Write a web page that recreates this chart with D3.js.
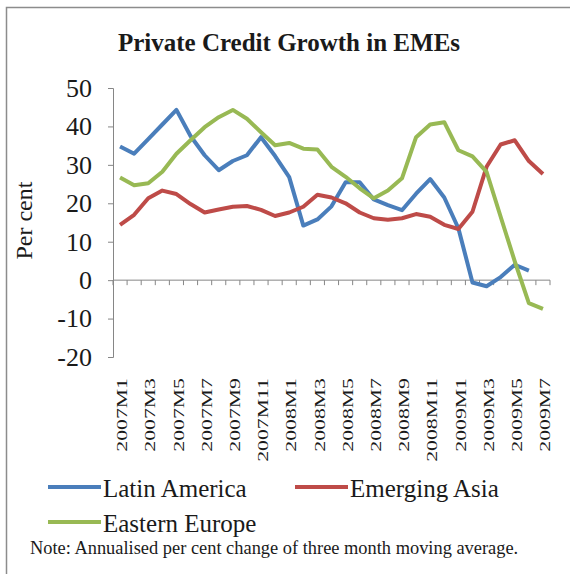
<!DOCTYPE html>
<html>
<head>
<meta charset="utf-8">
<script src="https://cdn.jsdelivr.net/npm/d3@7"></script>
<style>
    body { margin: 0; background: #fff; }
    text { font-family: "Liberation Serif", "Times New Roman", serif; fill: #1a1a1a; }
</style>
</head>
<body>
<div id="chart"></div>
<script>
// months on the x axis, every other one gets a label
var months = ["2007M1", "2007M2", "2007M3", "2007M4", "2007M5", "2007M6", "2007M7", "2007M8",
    "2007M9", "2007M10", "2007M11", "2007M12", "2008M1", "2008M2", "2008M3", "2008M4",
    "2008M5", "2008M6", "2008M7", "2008M8", "2008M9", "2008M10", "2008M11", "2008M12",
    "2009M1", "2009M2", "2009M3", "2009M4", "2009M5", "2009M6", "2009M7"];

// per cent (latin america stops at 2009M6)
var latinAmerica = [34.8, 32.9, 36.7, 40.5, 44.3, 37.5, 32.5, 28.6, 31, 32.5, 37.2, 32.3, 26.8,
    14.2, 15.8, 19.2, 25.5, 25.5, 21, 19.5, 18.2, 22.5, 26.3, 21.5, 13.5, -0.6, -1.6, 0.8, 4, 2.5, null];
var emergingAsia = [14.4, 17, 21.3, 23.3, 22.4, 19.8, 17.6, 18.4, 19.1, 19.3, 18.3, 16.7, 17.6,
    19.1, 22.2, 21.5, 20, 17.6, 16.1, 15.7, 16.1, 17.2, 16.5, 14.4, 13.3, 17.8, 29.5, 35.3, 36.4, 31, 27.6];
var easternEurope = [26.7, 24.7, 25.2, 28.2, 32.9, 36.4, 39.8, 42.4, 44.3, 42, 38.5, 35.1, 35.7,
    34.2, 34, 29.5, 26.9, 23.9, 21.3, 23.3, 26.5, 37.2, 40.5, 41.1, 33.8, 32.2, 28.2, 16.5, 4.9, -6, -7.5];

var yTicks = [-20, -10, 0, 10, 20, 30, 40, 50];
var seriesNames = ["Latin America", "Emerging Asia", "Eastern Europe"];
var seriesColors = ["#4a7ebb", "#be4b48", "#98b954"];

window.onload = function(){
    var width = 570, height = 574;

    var svg = d3.select("#chart")
                .append("svg")
                .attr("width", width)
                .attr("height", height);

    // grey frame round the chart (cut off at right and bottom)
    svg.append("rect")
        .attr("x", 6.5).attr("y", 7.5)
        .attr("width", 600).attr("height", 600)
        .style("fill", "none")
        .style("stroke", "#8c8c8c")
        .style("stroke-width", 1.5);

    svg.append("text")
        .attr("x", 289).attr("y", 51)
        .attr("text-anchor", "middle")
        .style("font-size", "25px")
        .style("font-weight", "bold")
        .text("Private Credit Growth in EMEs");

    var x = d3.scaleBand()
              .domain(months)
              .range([113, 550]);
    var y = d3.scaleLinear()
              .domain([-20, 50])
              .range([357, 88]);

    // y axis
    var yAxis = d3.axisLeft(y)
                  .tickValues(yTicks)
                  .tickSize(5)
                  .tickPadding(16)
                  .tickFormat(function(d){ return String(d); });
    var gy = svg.append("g")
                .attr("transform", "translate(113,0)")
                .call(yAxis);
    gy.select(".domain").style("stroke", "#868686");
    gy.selectAll(".tick line").style("stroke", "#868686");
    gy.selectAll(".tick text")
      .style("font-size", "26px")
      .style("font-family", "'Liberation Serif', serif")
      .style("fill", "#1a1a1a");

    svg.append("text")
        .attr("transform", "translate(24," + y(15.5) + ") rotate(-90)")
        .attr("text-anchor", "middle")
        .attr("dy", "0.35em")
        .style("font-size", "24px")
        .text("Per cent");

    // x axis on the zero line, ticks between the months
    svg.append("line")
        .attr("x1", 113).attr("x2", 550)
        .attr("y1", y(0)).attr("y2", y(0))
        .style("stroke", "#868686");
    var edges = months.map(function(m){ return x(m); }).concat([x.range()[1]]);
    svg.append("g")
        .selectAll("line")
        .data(edges)
        .enter()
        .append("line")
        .attr("x1", function(d){ return d; })
        .attr("x2", function(d){ return d; })
        .attr("y1", y(0))
        .attr("y2", y(0) + 5)
        .style("stroke", "#868686");

    // month labels, stretched like the original
    svg.append("g")
        .selectAll("text")
        .data(months.filter(function(m, i){ return i % 2 == 0; }))
        .enter()
        .append("text")
        .attr("transform", function(d){
            return "translate(" + (x(d) + x.bandwidth() / 2 + 2) + ",378) rotate(-90) scale(1.45,1)";
        })
        .attr("text-anchor", "end")
        .attr("dy", "0.35em")
        .style("font-size", "15px")
        .text(function(d){ return d; });

    // the three lines
    var allSeries = [latinAmerica, emergingAsia, easternEurope];
    var line = d3.line()
                 .defined(function(d){ return d != null; })
                 .x(function(d, i){ return x(months[i]) + x.bandwidth() / 2; })
                 .y(function(d){ return y(d); });

    svg.append("g")
        .selectAll("path")
        .data(allSeries)
        .enter()
        .append("path")
        .attr("d", line)
        .style("fill", "none")
        .style("stroke", function(d, i){ return seriesColors[i]; })
        .style("stroke-width", 4)
        .style("stroke-linejoin", "round");

    // legend
    var legendPos = [[48, 487], [295, 487], [48, 522]];
    var legend = svg.append("g")
                    .selectAll("g")
                    .data(seriesNames)
                    .enter()
                    .append("g")
                    .attr("transform", function(d, i){
                        return "translate(" + legendPos[i][0] + "," + legendPos[i][1] + ")";
                    });
    legend.append("line")
          .attr("x1", 0).attr("x2", 53)
          .style("stroke", function(d, i){ return seriesColors[i]; })
          .style("stroke-width", 4);
    legend.append("text")
          .attr("x", 55)
          .attr("y", 10)
          .style("font-size", "25px")
          .style("font-family", "'Liberation Serif', serif")
          .text(function(d){ return d; });

    svg.append("text")
        .attr("x", 30).attr("y", 554)
        .style("font-size", "18.4px")
        .text("Note: Annualised per cent change of three month moving average.");
};
</script>
</body>
</html>
